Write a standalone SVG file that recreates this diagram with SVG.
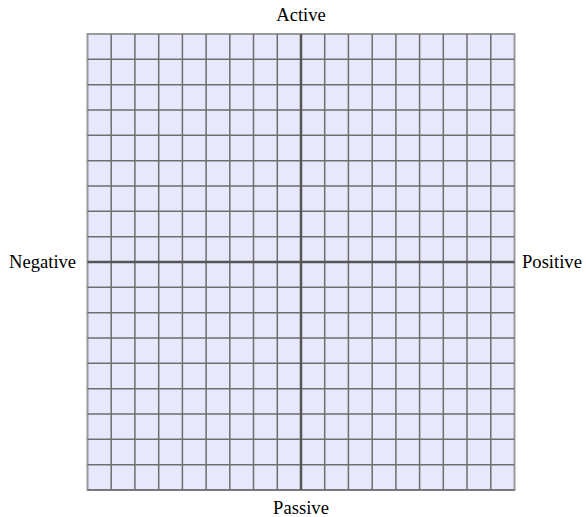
<svg xmlns="http://www.w3.org/2000/svg" width="586" height="517" viewBox="0 0 586 517">
<style>
.lbl{font-family:"Liberation Serif","Times New Roman",serif;font-size:18.6px;fill:#000}
.grid{stroke:#6e6e6e;stroke-width:1.5;fill:none}
.axis{stroke:#555;stroke-width:2.5;fill:none}
</style>
<rect width="586" height="517" fill="#fff"/>
<g id="plane">
<rect x="87.5" y="34" width="427" height="456" fill="#E8E8FC" stroke="#9a9a9a" stroke-width="2"/>
<path class="grid" d="M111.2 34V490M134.9 34V490M158.7 34V490M182.4 34V490M206.1 34V490M229.8 34V490M253.5 34V490M277.3 34V490M324.7 34V490M348.4 34V490M372.2 34V490M395.9 34V490M419.6 34V490M443.3 34V490M467 34V490M490.8 34V490"/>
<path class="grid" d="M87.5 59.3H514.5M87.5 84.7H514.5M87.5 110H514.5M87.5 135.3H514.5M87.5 160.7H514.5M87.5 186H514.5M87.5 211.3H514.5M87.5 236.7H514.5M87.5 287.3H514.5M87.5 312.7H514.5M87.5 338H514.5M87.5 363.3H514.5M87.5 388.7H514.5M87.5 414H514.5M87.5 439.3H514.5M87.5 464.7H514.5"/>
<path class="grid" d="M87.5 490H514.5"/>
</g>
<g id="axes">
<path class="axis" d="M301 34V490M87.5 262H514.5"/>
</g>
<g id="labels">
<text class="lbl" x="301" y="21" text-anchor="middle">Active</text>
<text class="lbl" x="301" y="514" text-anchor="middle">Passive</text>
<text class="lbl" x="9" y="268">Negative</text>
<text class="lbl" x="522" y="268">Positive</text>
</g>
</svg>
